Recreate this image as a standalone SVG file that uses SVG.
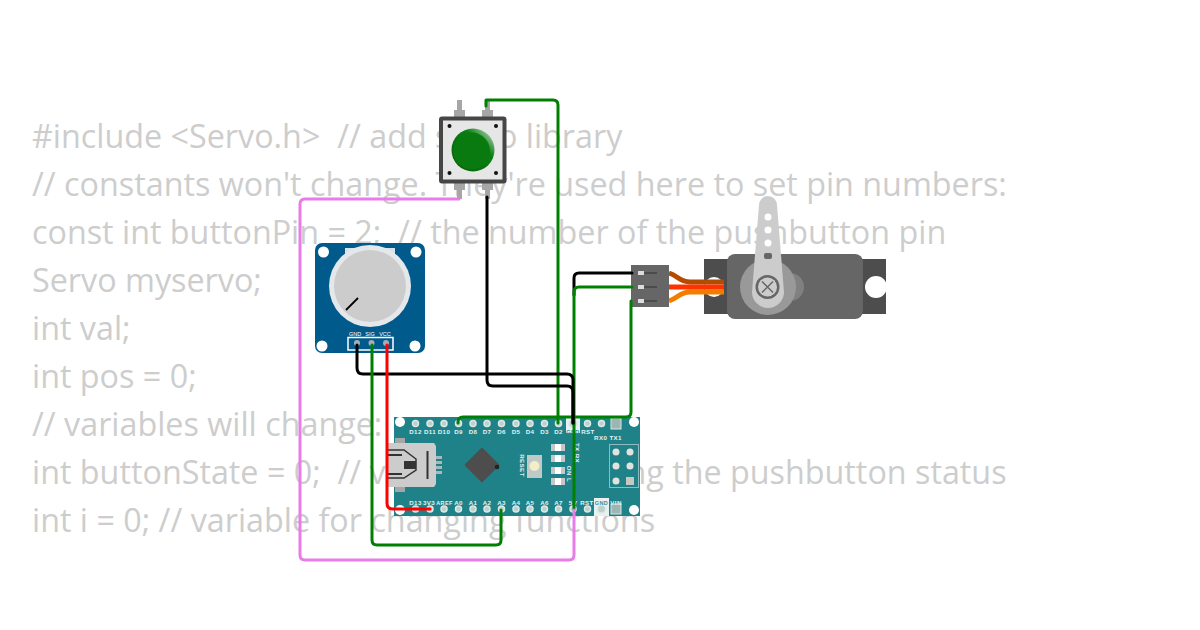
<svg xmlns="http://www.w3.org/2000/svg" width="1200" height="630" viewBox="0 0 1200 630">
<style>
.code{font:32.3px "Open Sans","Noto Sans",sans-serif;fill:#cdcdcd;white-space:pre}
.w{fill:none;stroke-width:3;stroke-linecap:round;stroke-linejoin:round}
.lb{font:bold 6.200px "Liberation Sans",sans-serif;fill:#e4f2f2;text-anchor:middle;letter-spacing:.4px}
.pin{fill:#bcd0cc;stroke:#dbe8e6;stroke-width:1.500}
</style>
<rect width="1200" height="630" fill="#fff"/>
<g id="code" class="code">
<text xml:space="preserve" x="32" y="148">#include &lt;Servo.h&gt;  // add servo library</text>
<text x="32" y="196">// constants won't change. They're used here to set pin numbers:</text>
<text xml:space="preserve" x="32" y="244">const int buttonPin = 2;  // the number of the pushbutton pin</text>
<text x="32" y="292">Servo myservo;</text>
<text x="32" y="340">int val;</text>
<text x="32" y="388">int pos = 0;</text>
<text x="32" y="436">// variables will change:</text>
<text xml:space="preserve" x="32" y="484">int buttonState = 0;  // variable for reading the pushbutton status</text>
<text x="32" y="532">int i = 0; // variable for changing functions</text>
</g>
<g id="nano">
<rect x="394" y="417" width="246" height="99" fill="#1f8289"/>
<g fill="#fff"><circle cx="400" cy="422" r="5"/><circle cx="634" cy="422" r="5"/><circle cx="400" cy="510" r="5"/><circle cx="634" cy="510" r="5"/></g>
<rect x="566" y="417" width="14" height="16" fill="#e8f1f1"/>
<rect x="594" y="498" width="15" height="18" fill="#e8f1f1"/>
<g class="pin">
<circle cx="415.500" cy="423.500" r="3"/><circle cx="430" cy="423.500" r="3"/><circle cx="444" cy="423.500" r="3"/><circle cx="458.500" cy="423.500" r="3"/><circle cx="473" cy="423.500" r="3"/><circle cx="487" cy="423.500" r="3"/><circle cx="501.500" cy="423.500" r="3"/><circle cx="516" cy="423.500" r="3"/><circle cx="530" cy="423.500" r="3"/><circle cx="544.500" cy="423.500" r="3"/><circle cx="558.500" cy="423.500" r="3"/><circle cx="573" cy="423.500" r="4"/><circle cx="587.500" cy="423.500" r="3"/><circle cx="601.500" cy="423.500" r="3"/>
<circle cx="415.500" cy="509" r="3"/><circle cx="430" cy="509" r="3"/><circle cx="444" cy="509" r="3"/><circle cx="458.500" cy="509" r="3"/><circle cx="473" cy="509" r="3"/><circle cx="487" cy="509" r="3"/><circle cx="501.500" cy="509" r="3"/><circle cx="516" cy="509" r="3"/><circle cx="530" cy="509" r="3"/><circle cx="544.500" cy="509" r="3"/><circle cx="558.500" cy="509" r="3"/><circle cx="573" cy="509" r="3"/><circle cx="587.500" cy="509" r="3"/><circle cx="601.500" cy="509" r="4"/>
</g>
<rect x="611" y="418" width="10" height="11" fill="#9db5b3" stroke="#d9e6e4"/>
<rect x="611" y="504" width="10" height="10" fill="#9db5b3" stroke="#d9e6e4"/>
<g class="lb">
<text x="415.500" y="433.500">D12</text><text x="430" y="433.500">D11</text><text x="444" y="433.500">D10</text><text x="458.500" y="433.500">D9</text><text x="473" y="433.500">D8</text><text x="487" y="433.500">D7</text><text x="501.500" y="433.500">D6</text><text x="516" y="433.500">D5</text><text x="530" y="433.500">D4</text><text x="544.500" y="433.500">D3</text><text x="558.500" y="433.500">D2</text><text x="573" y="433.500" fill="#3a8f9a" font-size="5.500">GND</text><text x="588" y="433.500">RST</text>
<text x="608" y="439.500">RX0 TX1</text>
<text x="415.500" y="504.500">D13</text><text x="429" y="504.500">3V3</text><text x="444.500" y="504.500" font-size="5.500">AREF</text><text x="458.500" y="504.500">A0</text><text x="473" y="504.500">A1</text><text x="487" y="504.500">A2</text><text x="501.500" y="504.500">A3</text><text x="516" y="504.500">A4</text><text x="530" y="504.500">A5</text><text x="544.500" y="504.500">A6</text><text x="558.500" y="504.500">A7</text><text x="573" y="504.500">5V</text><text x="587" y="504.500">RST</text><text x="601.500" y="504.500" fill="#3a8f9a" font-size="5.500">GND</text><text x="616" y="504.500">VIN</text>
<text transform="translate(520,465.500) rotate(90)">RESET</text>
<text transform="translate(575,453) rotate(90)">TX RX</text>
<text transform="translate(567,474) rotate(90)">ON L</text>
</g>
<g id="usb">
<rect x="436" y="456" width="6" height="3" fill="#a9b8b8"/><rect x="436" y="461" width="6" height="3" fill="#a9b8b8"/><rect x="436" y="466" width="6" height="3" fill="#a9b8b8"/><rect x="436" y="471" width="6" height="3" fill="#a9b8b8"/>
<rect x="395" y="438" width="10" height="6" fill="#a6a6a6"/><rect x="395" y="486" width="10" height="6" fill="#a6a6a6"/>
<path d="M388 443H434L436 446V484L434 487H388Z" fill="#ccc"/>
<path d="M388 450H404L416 459V470L404 478H388" fill="none" stroke="#333" stroke-width="1.500"/>
<path d="M388 455H402M388 474H402" stroke="#333" stroke-width="2"/>
<path d="M404 461H416V469H404Z" fill="#333"/>
<path d="M427.500 451V479" stroke="#333" stroke-width="2"/>
</g>
<rect x="469.500" y="452.500" width="25" height="25" rx="1" fill="#4d4d4d" transform="rotate(45 482 465)"/>
<circle cx="497" cy="467" r="2.300" fill="#222"/>
<rect x="527" y="455" width="15" height="23" fill="#bfc9c7"/>
<circle cx="534.500" cy="466" r="5" fill="#f2eec8"/>
<g fill="#c7c7c7"><rect x="551" y="444" width="14" height="7"/><rect x="551" y="455" width="14" height="7"/><rect x="551" y="467" width="14" height="7"/><rect x="551" y="478" width="14" height="7"/></g>
<g fill="#fff"><rect x="555" y="444" width="6" height="7"/><rect x="555" y="455" width="6" height="7"/><rect x="555" y="467" width="6" height="7"/><rect x="555" y="478" width="6" height="7"/></g>
<rect x="609.500" y="444.500" width="29" height="43" fill="none" stroke="#8fbcc0"/>
<g fill="#e3e3de"><circle cx="616" cy="452" r="3.500"/><circle cx="630" cy="452" r="3.500"/><circle cx="616" cy="466" r="3.500"/><circle cx="630" cy="466" r="3.500"/><circle cx="616" cy="481" r="3.500"/><rect x="626" y="477" width="8" height="8" fill="#c8c8c0"/></g>
</g>
<g id="pot">
<rect x="315" y="243" width="110" height="110" rx="7" fill="#015a8c"/>
<g fill="#fff"><circle cx="323.500" cy="252" r="5.500"/><circle cx="416" cy="252" r="5.500"/><circle cx="322" cy="346" r="5.500"/><circle cx="415" cy="346" r="5.500"/></g>
<rect x="345" y="248" width="50" height="20" fill="#d6e2ea"/>
<circle cx="370" cy="286" r="41" fill="#e4e8ea"/>
<circle cx="370" cy="286" r="36" fill="#ccc"/>
<path d="M346 310L358 298" stroke="#000" stroke-width="1.800"/>
<rect x="348" y="337.500" width="45" height="12.500" fill="none" stroke="#fff" stroke-width="1.500"/>
<g fill="#aab"><circle cx="357" cy="343" r="3"/><circle cx="371.500" cy="343" r="3"/><circle cx="386" cy="343" r="3"/></g>
<g font-family="'Liberation Sans',sans-serif" font-size="5.500" fill="#fff" text-anchor="middle"><text x="355" y="336">GND</text><text x="370" y="336">SIG</text><text x="385" y="336">VCC</text></g>
</g>
<g id="button">
<defs><linearGradient id="gb" x1="1" y1="0" x2="0" y2="1"><stop offset="0" stop-color="#d8e4d8"/><stop offset=".35" stop-color="#0a7f12"/><stop offset="1" stop-color="#085c0c"/></linearGradient></defs>
<g fill="#a6a6a6"><rect x="457" y="100" width="5" height="12"/><rect x="485" y="100" width="5" height="12"/><rect x="454" y="110" width="11" height="8"/><rect x="482" y="110" width="11" height="8"/><rect x="454" y="182" width="11" height="8"/><rect x="482" y="182" width="11" height="8"/><rect x="457" y="188" width="5" height="11"/><rect x="485" y="188" width="5" height="11"/></g>
<rect x="441" y="118.500" width="63.500" height="63" rx="1" fill="#e6e6e6" stroke="#464646" stroke-width="4"/>
<g fill="#111"><circle cx="449.500" cy="126" r="2"/><circle cx="496" cy="126" r="2"/><circle cx="449.500" cy="173" r="2"/><circle cx="496" cy="173" r="2"/></g>
<circle cx="473" cy="150" r="21.500" fill="url(#gb)"/>
<circle cx="471.500" cy="151" r="18.500" fill="#087a0f"/>
</g>
<g id="servo">
<rect x="704" y="259" width="182" height="55" fill="#4d4d4d"/>
<circle cx="714" cy="287" r="10" fill="#fff"/>
<circle cx="876" cy="287" r="11" fill="#fff"/>
<rect x="727" y="254" width="136" height="65" rx="8" fill="#666"/>
<circle cx="790" cy="287" r="14" fill="#808080"/>
<circle cx="768" cy="287" r="28" fill="#999"/>
<path d="M759 205A9 9 0 0 1 777 205L784 292A16 16 0 0 1 752 292Z" fill="#ccc"/>
<g fill="#fff"><circle cx="768" cy="217" r="3.500"/><circle cx="768" cy="230" r="3.500"/><circle cx="768" cy="243" r="3.500"/></g>
<rect x="764" y="253" width="8" height="6" rx="2" fill="#666"/>
<circle cx="767.500" cy="287" r="12" fill="#666"/>
<circle cx="767.500" cy="287" r="9.500" fill="#ccc"/>
<path d="M762 281.500L773 292.500M773 281.500L762 292.500" stroke="#666" stroke-width="1.500"/>
<g fill="none" stroke-width="5"><path d="M669 273C678 276 680 282 690 282H724" stroke="#b34c00"/><path d="M669 301C678 298 680 292 690 292H724" stroke="#f57c00"/></g>
<path d="M669 287H724" stroke="#ff3300" stroke-width="5" fill="none"/>
<rect x="631" y="265" width="38" height="42" fill="#666"/>
<g fill="#ddd"><rect x="638" y="271" width="6" height="4"/><rect x="638" y="285" width="6" height="4"/><rect x="638" y="299" width="6" height="4"/></g>
<path d="M644 273H657M644 287H657M644 301H657" stroke="#444" stroke-width="1.500"/>
</g>
<g id="connectors" class="w">
<path stroke="#000" d="M632 273H579Q574 273 574 278V295"/>
<path stroke="#008000" d="M486 106V100H553Q558 100 558 105V423"/>
<path stroke="#008000" d="M631 301V412Q631 417 626 417H463Q458 417 458 422V423"/>
<path stroke="#008000" d="M632 287H579Q574 287 574 292V509"/>
<path stroke="#000" d="M357 345V368Q357 374 363 374H567Q573 374 573 380V423"/>
<path stroke="#000" d="M487 197V380Q487 386 493 386H567Q573 386 573 392V423"/>
<path stroke="#008000" d="M372 345V540Q372 545 377 545H496Q501 545 501 540V510"/>
<path stroke="#f00" d="M387 345V503Q387 509 393 509H430"/>
<path stroke="#e87de8" d="M459 199H305Q300 199 300 204V555Q300 560 305 560H569Q574 560 574 555V510"/>
</g>
</svg>
